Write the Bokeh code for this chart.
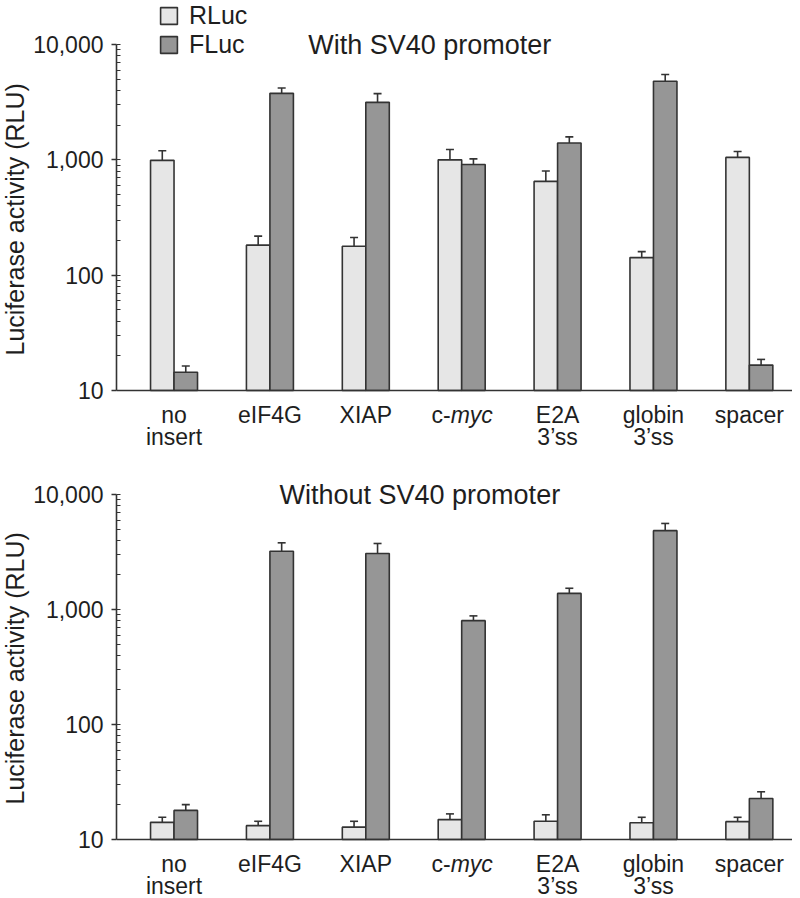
import numpy as np
from bokeh.plotting import figure
from bokeh.models import (ColumnDataSource, Whisker, TeeHead, LogTicker, FixedTicker,
                          NumeralTickFormatter, Legend, LegendItem, Label, Title)
from bokeh.layouts import column
from bokeh.embed import file_html
from bokeh.resources import INLINE
from bokeh.core.properties import value

# ---------------- data ----------------
categories = ["no\ninsert", "eIF4G", "XIAP", "c-myc", "E2A\n3\u2019ss", "globin\n3\u2019ss", "spacer"]
italic_part = {"c-myc": "myc"}
series = ["RLuc", "FLuc"]
y_ticks = [10, 100, 1000, 10000]
y_label = "Luciferase activity (RLU)"
titles = ["With SV40 promoter", "Without SV40 promoter"]

with_rluc = [990, 182, 178, 1000, 650, 142, 1050]
with_rluc_err = [1200, 218, 212, 1230, 800, 160, 1180]
with_fluc = [14.4, 3770, 3150, 910, 1400, 4800, 16.6]
with_fluc_err = [16.3, 4200, 3750, 1020, 1580, 5500, 18.6]

without_rluc = [14.1, 13.2, 12.8, 14.9, 14.4, 14.0, 14.3]
without_rluc_err = [15.6, 14.4, 14.4, 16.7, 16.4, 15.6, 15.6]
without_fluc = [17.9, 3210, 3070, 800, 1380, 4850, 22.7]
without_fluc_err = [20.1, 3800, 3750, 880, 1530, 5600, 26.0]

# ---------------- style ----------------
FONT = "Liberation Sans"
TXT = "#1e1e1e"
LINE = "#333333"
FILL = {"RLuc": "#e6e6e6", "FLuc": "#969696"}
BAR_W = 0.245
Y_MIN, Y_MAX = y_ticks[0], y_ticks[-1]
W = 792
LEFT = 115
X_RANGE = (-0.6, 6.45)
LBL_PX = "23px"


def panel(title, title_x, rluc, rluc_err, fluc, fluc_err, height, top_px, axis_px, legend):
    """top_px: pixel row of 10,000 within the figure; axis_px: pixel row of 10."""
    n_dec = np.log10(Y_MAX) - np.log10(Y_MIN)
    dec_px = (axis_px - top_px) / n_dec
    log_end = np.log10(Y_MAX) + top_px / dec_px
    log_start = np.log10(Y_MIN) - (height - axis_px) / dec_px
    p = figure(width=W, height=height, x_range=X_RANGE,
               y_range=(10 ** log_start, 10 ** log_end),
               y_axis_type="log", output_backend="svg", toolbar_location=None,
               min_border_left=LEFT, min_border_right=0, min_border_top=0,
               min_border_bottom=0)
    p.xgrid.visible = False
    p.ygrid.visible = False
    p.outline_line_color = None

    x = np.arange(len(categories))
    rend = []
    for name, vals, errs, sign in (("RLuc", rluc, rluc_err, -1), ("FLuc", fluc, fluc_err, 1)):
        src = ColumnDataSource(dict(x=x + sign * BAR_W / 2, val=vals, err=errs))
        r = p.vbar(x="x", top="val", bottom=Y_MIN, width=BAR_W, source=src,
                   fill_color=FILL[name], line_color=LINE, line_width=1.6)
        rend.append((name, r))
        p.add_layout(Whisker(source=src, base="x", lower="val", upper="err",
                             line_color=LINE, line_width=1.6,
                             upper_head=TeeHead(size=8, line_color=LINE, line_width=1.6),
                             lower_head=None))

    # y axis
    ya = p.yaxis[0]
    ya.ticker = LogTicker(num_minor_ticks=10)
    ya.formatter = NumeralTickFormatter(format="0,0")
    ya.bounds = (Y_MIN, Y_MAX)
    ya.axis_line_color = LINE
    ya.axis_line_width = 1.6
    ya.major_tick_line_color = LINE
    ya.major_tick_line_width = 1.6
    ya.major_tick_out = 5
    ya.major_tick_in = 0
    ya.minor_tick_line_color = LINE
    ya.minor_tick_line_width = 1.2
    ya.minor_tick_in = 4
    ya.minor_tick_out = 0
    ya.major_label_standoff = 8
    ya.major_label_text_font = FONT
    ya.major_label_text_font_size = "23px"
    ya.major_label_text_color = TXT

    # y axis title, centred on the bounded axis (10 .. 10,000)
    p.add_layout(Title(text=y_label, align="left", offset=(height - axis_px) + 35, standoff=0,
                       vertical_align="top", text_font=FONT, text_font_size="25px",
                       text_font_style="normal", text_color=TXT), "left")

    # x axis at y = 10; category names drawn as text below it
    xa = p.xaxis[0]
    xa.fixed_location = Y_MIN
    xa.ticker = FixedTicker(ticks=list(range(len(categories))))
    xa.major_label_overrides = {i: "" for i in range(len(categories))}
    xa.major_label_text_font_size = "0px"
    xa.major_label_standoff = 0
    xa.axis_line_color = LINE
    xa.axis_line_width = 1.6
    xa.major_tick_out = 0
    xa.major_tick_in = 0
    xa.minor_tick_out = 0
    xa.minor_tick_in = 0

    line1_x, line1_t, line2_x, line2_t = [], [], [], []
    for i, cat in enumerate(categories):
        parts = cat.split("\n")
        if cat in italic_part:
            continue
        line1_x.append(i)
        line1_t.append(parts[0])
        if len(parts) > 1:
            line2_x.append(i)
            line2_t.append(parts[1])
    common = dict(text_baseline="alphabetic", text_font=value(FONT),
                  text_font_size=LBL_PX, text_color=TXT)
    p.text(x="x", y=Y_MIN, text="t", y_offset=24, text_align="center",
           source=ColumnDataSource(dict(x=line1_x, t=line1_t)), **common)
    p.text(x="x", y=Y_MIN, text="t", y_offset=46, text_align="center",
           source=ColumnDataSource(dict(x=line2_x, t=line2_t)), **common)
    for i, cat in enumerate(categories):
        if cat in italic_part:
            it = italic_part[cat]
            pre = cat[: len(cat) - len(it)]
            p.text(x=[i], y=Y_MIN, text=[pre], y_offset=24, x_offset=-11,
                   text_align="right", **common)
            p.text(x=[i], y=Y_MIN, text=[it], y_offset=24, x_offset=-11,
                   text_align="left", text_font_style="italic", **common)

    # panel title
    p.add_layout(Label(x=title_x, y=Y_MAX, text=title, text_align="left", text_baseline="middle",
                       text_font=FONT, text_font_size="27px", text_color=TXT))

    if legend:
        lg = Legend(items=[LegendItem(label=n, renderers=[r]) for n, r in rend],
                    location=(42, height - 59), padding=0, margin=0, spacing=-5,
                    glyph_width=21, glyph_height=21, label_standoff=10,
                    label_text_font=FONT, label_text_font_size="25px", label_text_color=TXT,
                    border_line_alpha=0, background_fill_alpha=0)
        p.add_layout(lg)
    return p


p1 = panel(titles[0], 1.40, with_rluc, with_rluc_err, with_fluc, with_fluc_err,
           height=456, top_px=44, axis_px=390, legend=True)
p2 = panel(titles[1], 1.10, without_rluc, without_rluc_err, without_fluc, without_fluc_err,
           height=441, top_px=494 - 456, axis_px=839 - 456, legend=False)

layout = column(p1, p2, spacing=0)
open("out.html", "w").write(file_html(layout, INLINE))
